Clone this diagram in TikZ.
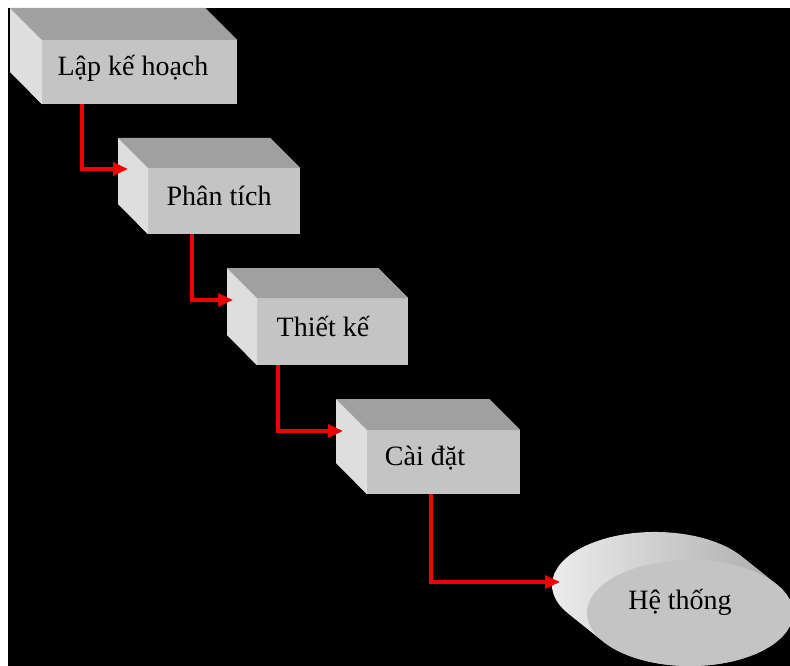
\documentclass[tikz,border=0pt]{standalone}
\usepackage{fontspec}
\setmainfont{Liberation Serif}
\usetikzlibrary{arrows.meta,calc,shapes.geometric}
\definecolor{frontgrey}{HTML}{C4C4C4}
\definecolor{topgrey}{HTML}{A0A0A0}
\definecolor{sidegrey}{HTML}{DEDEDE}
\definecolor{diskhi}{HTML}{F0F0F0}
\definecolor{disklo}{HTML}{A4A4A4}
\definecolor{flowred}{HTML}{F00000}
\begin{document}
\begin{tikzpicture}[x=1pt,y=-1pt,
  face/.style={draw=none,fill=frontgrey,inner sep=0pt,anchor=north west},
  lbl/.style={font=\fontsize{28}{30}\selectfont,text=black,anchor=base,inner sep=0pt},
  flow/.style={draw=flowred,line width=3.5pt,-{Triangle[length=15pt,width=13pt]}}]
% canvas
\useasboundingbox (0,0) rectangle (790,666);
\fill[white] (0,0) rectangle (790,666);
\fill[black] (8,8) rectangle (790,666);

% stage slabs: front face node, then top and left faces
\node[face,minimum width=195pt,minimum height=64pt] (b1) at (42,40) {};
\fill[topgrey] (b1.north west) -- (b1.north east) -- ++(-32,-32) -- ($(b1.north west)+(-32,-32)$) -- cycle;
\fill[sidegrey] (b1.north west) -- ++(-32,-32) -- ++(0,64) -- (b1.south west) -- cycle;

\node[face,minimum width=152pt,minimum height=66pt] (b2) at (148,168) {};
\fill[topgrey] (b2.north west) -- (b2.north east) -- ++(-30,-30) -- ($(b2.north west)+(-30,-30)$) -- cycle;
\fill[sidegrey] (b2.north west) -- ++(-30,-30) -- ++(0,66) -- (b2.south west) -- cycle;

\node[face,minimum width=151pt,minimum height=67pt] (b3) at (257,298) {};
\fill[topgrey] (b3.north west) -- (b3.north east) -- ++(-30,-30) -- ($(b3.north west)+(-30,-30)$) -- cycle;
\fill[sidegrey] (b3.north west) -- ++(-30,-30) -- ++(0,67) -- (b3.south west) -- cycle;

\node[face,minimum width=153pt,minimum height=64pt] (b4) at (367,430) {};
\fill[topgrey] (b4.north west) -- (b4.north east) -- ++(-31,-31) -- ($(b4.north west)+(-31,-31)$) -- cycle;
\fill[sidegrey] (b4.north west) -- ++(-31,-31) -- ++(0,64) -- (b4.south west) -- cycle;

% final disk: shaded rim, then the front ellipse
\shade[left color=diskhi,right color=disklo]
  (741.6,556.3) arc[start angle=-32.75,end angle=-212.75,x radius=103,y radius=53]
  -- (603.4,641.7) arc[start angle=147.25,end angle=-32.75,x radius=103,y radius=53]
  -- cycle;
\node[ellipse,draw=none,fill=frontgrey,minimum width=206pt,minimum height=106pt,inner sep=0pt] (sys) at (690,613) {};

% labels
\node[lbl] (t1) at (133,76) {Lập kế hoạch};
\node[lbl] (t2) at (219,205) {Phân tích};
\node[lbl] (t3) at (323,336) {Thiết kế};
\node[lbl] (t4) at (425,465) {Cài đặt};
\node[lbl] (t5) at (680,609) {Hệ thống};

% arrow tips resting on the side of the next stage
\coordinate (in2) at (128,169);
\coordinate (in3) at (233,300);
\coordinate (in4) at (343,431);
\coordinate (in5) at (560,582);

\draw[flow] ([xshift=40pt]b1.south west) |- (in2);
\draw[flow] ([xshift=44pt]b2.south west) |- (in3);
\draw[flow] ([xshift=21pt]b3.south west) |- (in4);
\draw[flow] ([xshift=64pt]b4.south west) |- (in5);
\end{tikzpicture}
\end{document}
